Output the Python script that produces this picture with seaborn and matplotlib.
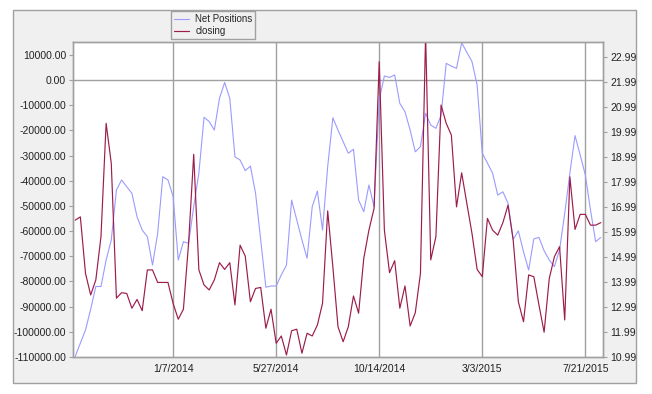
import pandas as pd
import matplotlib
matplotlib.use("Agg")
import matplotlib.pyplot as plt
import matplotlib.dates as mdates
from matplotlib.patches import Rectangle
import seaborn as sns

# weekly values (first week 8/27/2013)
start_date = "2013-08-27"

net_positions = [
    -109.8, -104.5, -99.3, -91.0, -82.0, -82.0, -71.5, -63.5, -43.7, -39.7,
    -42.4, -45.0, -54.3, -59.6, -62.2, -73.5, -60.9, -38.4, -39.7, -46.3,
    -71.5, -64.2, -64.9, -50.3, -37.0, -14.8, -16.5, -19.9, -7.3, -1.0,
    -7.3, -30.5, -31.8, -36.0, -34.2, -45.0, -63.5, -82.3, -81.8, -81.8,
    -77.4, -73.5, -47.7, -55.6, -63.5, -70.8, -50.3, -44.1, -59.6, -34.4,
    -15.0, -19.9, -24.5, -29.1, -27.5, -47.7, -52.3, -41.7, -50.3, -7.9,
    1.6, 1.0, 2.0, -9.3, -12.6, -19.9, -28.5, -26.5, -13.2, -17.9,
    -19.2, -14.0, 6.6, 5.5, 4.6, 14.8, 11.0, 7.3, -2.0, -29.1,
    -33.0, -37.0, -45.7, -44.4, -49.0, -63.3, -59.9, -68.2, -75.5, -63.1,
    -62.5, -67.8, -71.5, -74.1, -67.5, -52.9, -37.0, -22.1, -29.8, -37.7,
    -51.6, -64.2, -62.5,
]
net_positions = [v * 1000 for v in net_positions]

closing = [
    16.46, 16.59, 14.33, 13.47, 14.07, 15.80, 20.33, 18.73, 13.34, 13.56,
    13.53, 12.94, 13.29, 12.84, 14.47, 14.47, 13.97, 13.97, 13.97, 13.13,
    12.50, 12.90, 15.53, 19.09, 14.47, 13.87, 13.67, 14.07, 14.76, 14.49,
    14.76, 13.07, 15.46, 15.02, 13.20, 13.73, 13.77, 12.14, 12.90, 11.54,
    11.83, 11.07, 12.04, 12.10, 11.14, 11.94, 11.83, 12.27, 13.14, 16.83,
    14.60, 12.20, 11.60, 12.20, 13.43, 12.74, 14.93, 16.06, 16.93, 22.79,
    16.06, 14.36, 14.84, 12.94, 13.83, 12.23, 12.76, 14.33, 23.90, 14.87,
    15.80, 21.06, 20.33, 19.86, 16.99, 18.35, 17.13, 15.93, 14.49, 14.20,
    16.53, 16.06, 15.86, 16.36, 17.06, 15.66, 13.20, 12.40, 14.27, 14.20,
    13.07, 11.98, 14.13, 15.00, 15.40, 12.47, 18.19, 16.09, 16.69, 16.69,
    16.26, 16.26, 16.36,
]

tick_dates = ["2014-01-07", "2014-05-27", "2014-10-14", "2015-03-03", "2015-07-21"]
tick_labels = ["1/7/2014", "5/27/2014", "10/14/2014", "3/3/2015", "7/21/2015"]
left_ticks = list(range(-110000, 10001, 10000))
right_ticks = [10.99 + i for i in range(13)]

df = pd.DataFrame({
    "date": pd.date_range(start_date, periods=len(closing), freq="7D"),
    "Net Positions": net_positions,
    "closing": closing,
})

sns.set_style("white")
plt.rcParams["font.family"] = ["Liberation Sans", "DejaVu Sans"]

blue = "#9b9bff"
red = "#9c1c4c"
grey = "#a0a0a0"

fig = plt.figure(figsize=(6.52, 3.94), dpi=100)
fig.patches.append(Rectangle((13 / 652, 1 - 383 / 394), 623 / 652, 373 / 394,
                             transform=fig.transFigure, facecolor="#f0f0f0",
                             edgecolor=grey, linewidth=1, zorder=-5))

ax = fig.add_axes([73 / 652, 1 - 357 / 394, 530 / 652, 315 / 394])
ax.set_facecolor("white")
ax2 = ax.twinx()

sns.lineplot(data=df, x="date", y="Net Positions", ax=ax, color=blue, linewidth=0.8,
             label="Net Positions", legend=False)
sns.lineplot(data=df, x="date", y="closing", ax=ax2, color=red, linewidth=0.85,
             label="closing", legend=False)

ax.set_xlim(pd.Timestamp("2013-08-24"), pd.Timestamp("2015-08-14"))
ax.set_ylim(-110000, 15080)
ax2.set_ylim(10.99, 23.58)

ax.set_xticks([mdates.date2num(pd.Timestamp(d)) for d in tick_dates])
ax.set_xticklabels(tick_labels)
ax.set_yticks(left_ticks)
ax.set_yticklabels([f"{v:.2f}" for v in left_ticks])
ax2.set_yticks(right_ticks)
ax2.set_yticklabels([f"{v:.2f}" for v in right_ticks])

ax.grid(axis="x", color=grey, linewidth=1)
ax.axhline(0, color=grey, linewidth=1, zorder=0.5)
ax.set_xlabel("")
ax.set_ylabel("")
ax2.set_ylabel("")

for a in (ax, ax2):
    for s in a.spines.values():
        s.set_color(grey)
        s.set_linewidth(1)
    a.tick_params(labelsize=7.5, colors="#222222", length=3, width=0.8, pad=2)
    a.tick_params(axis="both", color=grey)

handles = ax.get_lines()[:1] + ax2.get_lines()[:1]
leg = fig.legend(handles, ["Net Positions", "closing"], loc="upper left",
                 bbox_to_anchor=(171 / 652, 1 - 11 / 394), fontsize=7,
                 frameon=True, fancybox=False, facecolor="#f0f0f0", edgecolor=grey,
                 framealpha=1, handlelength=1.6, handletextpad=0.6,
                 borderpad=0.3, labelspacing=0.25, borderaxespad=0)
leg.get_frame().set_linewidth(1)

fig.savefig("out.png", dpi=100)
